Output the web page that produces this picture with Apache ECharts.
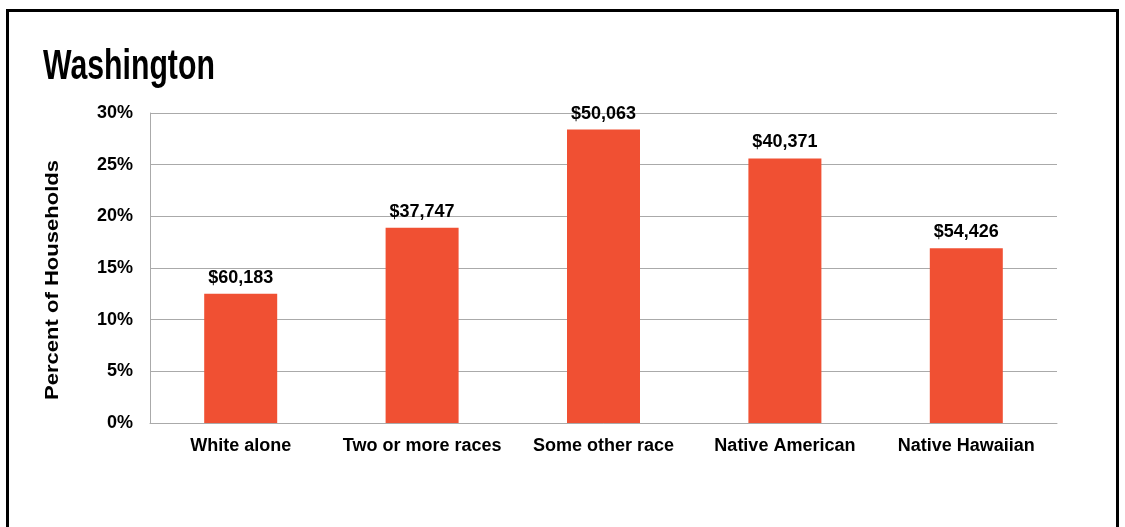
<!DOCTYPE html>
<html>
<head>
<meta charset="utf-8">
<script src="https://cdn.jsdelivr.net/npm/echarts@6/dist/echarts.min.js"></script>
<style>
  html, body { margin: 0; padding: 0; background: #fff; }
  #chart { width: 1125px; height: 527px; }
</style>
</head>
<body>
<div id="chart"></div>
<script>
const categories = ['White alone', 'Two or more races', 'Some other race', 'Native American', 'Native Hawaiian'];
const percents = [12.5, 18.9, 28.4, 25.6, 16.9];
const incomes = ['$60,183', '$37,747', '$50,063', '$40,371', '$54,426'];
const yTicks = [0, 5, 10, 15, 20, 25, 30];

const chart = echarts.init(document.getElementById('chart'));
const fontFamily = 'Liberation Sans, Arial, sans-serif';

chart.setOption({
  animation: false,
  graphic: [{
    type: 'rect',
    shape: { x: 7.5, y: 10.5, width: 1110, height: 540 },
    style: { fill: 'none', stroke: '#000', lineWidth: 3 }
  }, {
    // condensed title: no narrow font installed, so squeeze Liberation Sans
    type: 'text',
    x: 43,
    y: 46,
    scaleX: 0.72,
    style: {
      text: 'Washington',
      fontFamily: fontFamily,
      fontWeight: 'bold',
      fontSize: 42,
      fill: '#000',
      verticalAlign: 'top'
    }
  }, {
    type: 'text',
    x: 53,
    y: 280,
    rotation: Math.PI / 2,
    scaleX: 1.16,
    style: {
      text: 'Percent of Households',
      fontFamily: fontFamily,
      fontWeight: 'bold',
      fontSize: 19,
      fill: '#000',
      align: 'center',
      verticalAlign: 'middle'
    }
  }],
  grid: { left: 150, right: 68, top: 113, bottom: 104 },
  xAxis: {
    type: 'category',
    data: categories,
    axisTick: { show: false },
    axisLine: { lineStyle: { color: '#aaa', width: 1 } },
    axisLabel: {
      interval: 0,
      color: '#000', fontWeight: 'bold', fontSize: 18, fontFamily: fontFamily, margin: 14
    }
  },
  yAxis: {
    type: 'value',
    min: yTicks[0],
    max: yTicks[yTicks.length - 1],
    interval: 5,
    axisLine: { show: true, lineStyle: { color: '#aaa', width: 1 } },
    axisTick: { show: false },
    splitLine: { lineStyle: { color: '#aaa', width: 1 } },
    axisLabel: {
      color: '#000', fontWeight: 'bold', fontSize: 18, fontFamily: fontFamily, margin: 17,
      formatter: v => v + '%'
    }
  },
  series: [{
    type: 'bar',
    data: percents,
    barWidth: 73,
    itemStyle: { color: '#f05033' },
    label: {
      show: true,
      position: 'top',
      distance: 7,
      color: '#000',
      fontWeight: 'bold',
      fontSize: 18,
      fontFamily: fontFamily,
      formatter: p => incomes[p.dataIndex]
    }
  }]
});
</script>
</body>
</html>
